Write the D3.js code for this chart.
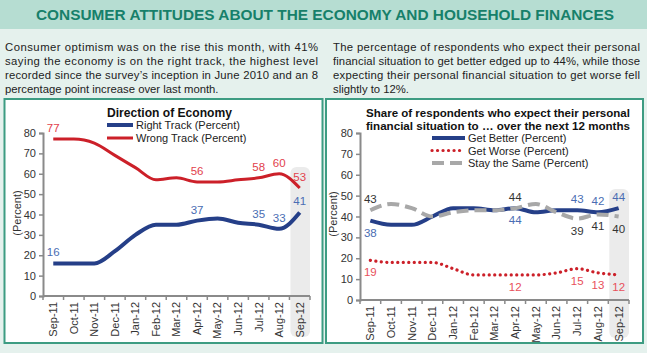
<!DOCTYPE html>
<html>
<head>
<meta charset="utf-8">
<script src="https://cdn.jsdelivr.net/npm/d3@7"></script>
<style>
body { margin: 0; background: #e5f1ed; }
svg { display: block; font-family: "Liberation Sans", Arial, sans-serif; }
</style>
</head>
<body>
<div id="chart"></div>
<script>
var months = ["Sep-11", "Oct-11", "Nov-11", "Dec-11", "Jan-12", "Feb-12", "Mar-12",
              "Apr-12", "May-12", "Jun-12", "Jul-12", "Aug-12", "Sep-12"];
var rightTrack = [16, 16, 16, 22, 30, 35, 35, 37, 38, 36, 35, 33, 41];
var wrongTrack = [77, 77, 75, 69, 63, 57, 58, 56, 56, 57, 58, 60, 53];
var getBetter = [38, 36, 36, 40, 44, 44, 43, 44, 42, 43, 43, 42, 44];
var getWorse = [19, 18, 18, 18, 15, 12, 12, 12, 12, 13, 15, 13, 12];
var staySame = [43, 46, 44, 40, 42, 43, 43, 44, 46, 42, 39, 41, 40];
var yTicks = [0, 10, 20, 30, 40, 50, 60, 70, 80];

var pageTitle = "CONSUMER ATTITUDES ABOUT THE ECONOMY AND HOUSEHOLD FINANCES";
var leftText = [
    "Consumer optimism was on the rise this month, with 41%",
    "saying the economy is on the right track, the highest level",
    "recorded since the survey\u2019s inception in June 2010 and an 8",
    "percentage point increase over last month."
];
var rightText = [
    "The percentage of respondents who expect their personal",
    "financial situation to get better edged up to 44%, while those",
    "expecting their personal financial situation to get worse fell",
    "slightly to 12%."
];

(function() {
    var width = 647;
    var height = 353;
    var svg = d3.select("#chart").append("svg")
        .attr("width", width)
        .attr("height", height);

    svg.append("rect").attr("width", width).attr("height", height).attr("fill", "#e5f1ed");
    svg.append("rect").attr("width", width).attr("height", 29).attr("fill", "#b6ddd2");
    svg.append("text")
        .attr("x", 36).attr("y", 20)
        .attr("textLength", 578).attr("lengthAdjust", "spacingAndGlyphs")
        .attr("font-size", 15.5).attr("font-weight", "bold")
        .attr("fill", "#17806a")
        .text(pageTitle);

    function paragraph(lines, x, w) {
        lines.forEach(function(s, i) {
            var t = svg.append("text")
                .attr("x", x).attr("y", 51 + i * 14)
                .attr("font-size", 11.3).attr("fill", "#222")
                .text(s);
            if (i < lines.length - 1) t.attr("textLength", w).attr("lengthAdjust", "spacing");
        });
    }
    paragraph(leftText, 5, 313);
    paragraph(rightText, 333, 307);

    // panels
    svg.append("rect").attr("x", 4.5).attr("y", 99).attr("width", 318).attr("height", 244)
        .attr("fill", "#fff").attr("stroke", "#3d9c82").attr("stroke-width", 2);
    svg.append("rect").attr("x", 326).attr("y", 99).attr("width", 317).attr("height", 244)
        .attr("fill", "#fff").attr("stroke", "#3d9c82").attr("stroke-width", 2);

    function drawChart(o) {
        var g = svg.append("g");
        var x = d3.scaleBand().domain(months).range([o.x0, o.x1]);
        var y = d3.scaleLinear().domain([0, 80]).range([o.yB, o.yT]);
        var last = months[months.length - 1];

        // highlight on latest month
        g.append("rect")
            .attr("x", x(last) + 1).attr("width", x.bandwidth() - 1)
            .attr("y", o.hlTop).attr("height", o.hlBottom - o.hlTop)
            .attr("rx", 6).attr("fill", "#ebebeb");

        // y axis
        var ya = g.append("g").attr("transform", "translate(" + o.x0 + ",0)")
            .call(d3.axisLeft(y).tickValues(yTicks).tickSize(4).tickPadding(3));
        ya.select(".domain").attr("stroke", "#8a8a8a").attr("stroke-width", 2);
        ya.selectAll(".tick line").attr("stroke", "#8a8a8a").attr("stroke-width", 1.5);
        ya.selectAll(".tick text").attr("font-size", 11).attr("fill", "#333")
            .attr("font-family", "Liberation Sans, Arial, sans-serif");

        // x axis with ticks between categories
        var xa = g.append("g").attr("transform", "translate(0," + o.yB + ")");
        xa.append("line").attr("x1", o.x0).attr("x2", o.x1)
            .attr("stroke", "#8a8a8a").attr("stroke-width", 2);
        xa.selectAll(".bt").data(months.concat(["end"])).enter().append("line")
            .attr("x1", function(d, i) { return o.x0 + i * x.bandwidth(); })
            .attr("x2", function(d, i) { return o.x0 + i * x.bandwidth(); })
            .attr("y1", 0).attr("y2", 4)
            .attr("stroke", "#8a8a8a").attr("stroke-width", 1.5);
        xa.selectAll(".xl").data(months).enter().append("text")
            .attr("transform", function(d) {
                return "translate(" + (x(d) + x.bandwidth() / 2) + ",6) rotate(-90)";
            })
            .attr("text-anchor", "end").attr("dy", "0.35em")
            .attr("font-size", 11).attr("fill", "#333")
            .text(function(d) { return d; });

        // y title
        g.append("text")
            .attr("transform", "translate(" + o.yLabelX + "," + o.yLabelY + ") rotate(-90)")
            .attr("text-anchor", "middle").attr("font-size", 11).attr("fill", "#333")
            .text("(Percent)");

        // series
        o.series.forEach(function(s) {
            var line = d3.line()
                .x(function(d, i) { return x(months[i]) + x.bandwidth() / 2; })
                .y(function(d) { return y(d); })
                .curve(d3.curveMonotoneX);
            var p = g.append("path").datum(s.values)
                .attr("d", line).attr("fill", "none")
                .attr("stroke", s.color).attr("stroke-width", s.width);
            if (s.dash) p.attr("stroke-dasharray", s.dash);
            if (s.cap) p.attr("stroke-linecap", s.cap);

            g.selectAll(null).data(s.labels).enter().append("text")
                .attr("x", function(i) { return x(months[i]) + x.bandwidth() / 2; })
                .attr("y", function(i) { return y(s.values[i]) + (s.above(i) ? -7 : 16); })
                .attr("text-anchor", "middle").attr("font-size", 11.5)
                .attr("fill", s.labelColor)
                .text(function(i) { return s.values[i]; });
        });

        // titles
        o.title.forEach(function(t, i) {
            var tt = g.append("text")
                .attr("x", o.titleX).attr("y", o.titleY + i * o.titleStep)
                .attr("font-size", o.titleSize).attr("font-weight", "bold").attr("fill", "#111")
                .text(t);
            if (o.titleLen) tt.attr("textLength", o.titleLen).attr("lengthAdjust", "spacingAndGlyphs");
        });

        // legend
        o.series.forEach(function(s, i) {
            var ly = o.legY + i * o.legStep;
            var l = g.append("line")
                .attr("x1", o.legX).attr("x2", o.legX + o.legW)
                .attr("y1", ly).attr("y2", ly)
                .attr("stroke", s.color).attr("stroke-width", s.width);
            if (s.dash) l.attr("stroke-dasharray", s.dash);
            if (s.cap) l.attr("stroke-linecap", s.cap);
            g.append("text")
                .attr("x", o.legX + o.legW + 3).attr("y", ly + 4)
                .attr("font-size", 11).attr("fill", "#222")
                .text(s.name);
        });
    }

    drawChart({
        x0: 43, x1: 310, yT: 133, yB: 296,
        hlTop: 167, hlBottom: 337,
        yLabelX: 21, yLabelY: 213,
        title: ["Direction of Economy"], titleX: 107, titleY: 117, titleLen: 125,
        titleSize: 12.5, titleStep: 12,
        legX: 107, legW: 26, legY: 125, legStep: 13,
        series: [
            { name: "Right Track (Percent)", values: rightTrack, color: "#253f88", width: 4,
              labelColor: "#4a6db3", labels: [0, 7, 10, 11, 12], above: function() { return true; } },
            { name: "Wrong Track (Percent)", values: wrongTrack, color: "#cc2029", width: 3,
              labelColor: "#e2414c", labels: [0, 7, 10, 11, 12], above: function() { return true; } }
        ]
    });

    drawChart({
        x0: 360, x1: 629, yT: 133, yB: 300,
        hlTop: 189, hlBottom: 338,
        yLabelX: 337, yLabelY: 214,
        title: ["Share of respondents who expect their personal",
                "financial situation to \u2026 over the next 12 months"],
        titleX: 366, titleY: 117, titleLen: 264, titleSize: 11, titleStep: 12.5,
        legX: 432, legW: 33, legY: 138, legStep: 12.5,
        series: [
            { name: "Get Better (Percent)", values: getBetter, color: "#253f88", width: 4,
              labelColor: "#4a6db3", labels: [0, 7, 10, 11, 12],
              above: function(i) { return i >= 10; } },
            { name: "Get Worse (Percent)", values: getWorse, color: "#cc2029", width: 3.2,
              dash: "0.1,5.4", cap: "round",
              labelColor: "#e8505b", labels: [0, 7, 10, 11, 12], above: function() { return false; } },
            { name: "Stay the Same (Percent)", values: staySame, color: "#a8a8a8", width: 4,
              dash: "12,6",
              labelColor: "#333", labels: [0, 7, 10, 11, 12],
              above: function(i) { return i < 10; } }
        ]
    });
})();
</script>
</body>
</html>
